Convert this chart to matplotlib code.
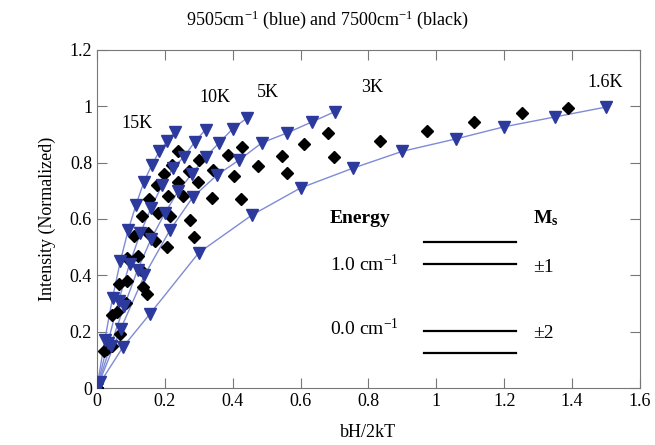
import matplotlib.pyplot as plt
import numpy as np
from matplotlib.ticker import FormatStrFormatter

plt.rcParams['font.family'] = ['Liberation Serif', 'DejaVu Serif']
plt.rcParams['mathtext.fontset'] = 'custom'
plt.rcParams['mathtext.rm'] = 'Liberation Serif'
plt.rcParams['mathtext.bf'] = 'Liberation Serif:bold'
plt.rcParams['mathtext.default'] = 'regular'

# blue series (9505 cm-1), triangles with line
b16_x = [0, 0.01, 0.077, 0.156, 0.30, 0.457, 0.60, 0.754, 0.90, 1.058, 1.20, 1.35, 1.50]
b16_y = [0, 0.02, 0.146, 0.263, 0.48, 0.614, 0.71, 0.78, 0.84, 0.884, 0.927, 0.962, 0.997]
b3_x = [0, 0.07, 0.14, 0.215, 0.283, 0.354, 0.42, 0.486, 0.56, 0.633, 0.70]
b3_y = [0, 0.21, 0.40, 0.56, 0.678, 0.756, 0.81, 0.87, 0.905, 0.944, 0.98]
b5_x = [0, 0.04, 0.08, 0.12, 0.16, 0.20, 0.24, 0.28, 0.32, 0.36, 0.40, 0.442]
b5_y = [0, 0.15, 0.29, 0.42, 0.53, 0.62, 0.70, 0.76, 0.82, 0.87, 0.92, 0.958]
b10_x = [0, 0.032, 0.064, 0.096, 0.128, 0.160, 0.192, 0.224, 0.256, 0.288, 0.32]
b10_y = [0, 0.16, 0.31, 0.44, 0.55, 0.64, 0.72, 0.78, 0.82, 0.873, 0.917]
b15_x = [0, 0.023, 0.046, 0.069, 0.092, 0.115, 0.138, 0.161, 0.184, 0.207, 0.23]
b15_y = [0, 0.17, 0.32, 0.45, 0.56, 0.65, 0.73, 0.79, 0.84, 0.875, 0.91]

# black series (7500 cm-1), diamonds only
k16_x = [0, 0.147, 0.286, 0.424, 0.56, 0.698, 0.834, 0.972, 1.111, 1.252, 1.388]
k16_y = [0, 0.334, 0.536, 0.67, 0.763, 0.82, 0.877, 0.912, 0.944, 0.976, 0.994]
k3_x = [0, 0.068, 0.136, 0.205, 0.274, 0.339, 0.404, 0.474, 0.545, 0.61, 0.68]
k3_y = [0, 0.19, 0.36, 0.50, 0.596, 0.674, 0.753, 0.788, 0.823, 0.866, 0.905]
k5_x = [0, 0.043, 0.086, 0.129, 0.172, 0.215, 0.253, 0.298, 0.342, 0.386, 0.427]
k5_y = [0, 0.15, 0.30, 0.42, 0.52, 0.61, 0.68, 0.731, 0.774, 0.827, 0.855]
k10_x = [0, 0.03, 0.06, 0.09, 0.12, 0.15, 0.18, 0.21, 0.24, 0.27, 0.30]
k10_y = [0, 0.14, 0.27, 0.38, 0.47, 0.55, 0.62, 0.68, 0.73, 0.77, 0.81]
k15_x = [0, 0.022, 0.044, 0.066, 0.088, 0.11, 0.132, 0.154, 0.176, 0.198, 0.22, 0.24]
k15_y = [0, 0.13, 0.26, 0.37, 0.46, 0.54, 0.61, 0.67, 0.72, 0.76, 0.79, 0.84]

temps = ['15K', '10K', '5K', '3K', '1.6K']
temp_x = [0.118, 0.348, 0.504, 0.81, 1.497]
temp_y = [0.94, 1.03, 1.047, 1.065, 1.083]

fig = plt.figure(figsize=(6.55, 4.45), dpi=100)
ax = fig.add_axes([0.148, 0.128, 0.829, 0.760])

mk = '#2b3a9c'
ln = '#7f8bd6'
blue = [(b16_x, b16_y), (b3_x, b3_y), (b5_x, b5_y), (b10_x, b10_y), (b15_x, b15_y)]
black = [(k16_x, k16_y), (k3_x, k3_y), (k5_x, k5_y), (k10_x, k10_y), (k15_x, k15_y)]
for xs, ys in blue:
    ax.plot(xs, ys, '-', color=ln, lw=1.0, zorder=2)
for xs, ys in black:
    ax.plot(xs, ys, 'D', color='black', ms=6, mec='black', zorder=3)
for xs, ys in blue:
    ax.plot(xs, ys, 'v', color=mk, ms=8.5, mec=mk, ls='none', zorder=4)

for t, x, y in zip(temps, temp_x, temp_y):
    ax.text(x, y, t, fontsize=13, ha='center', va='center')

# energy level inset
ax.text(0.687, 0.603, 'Energy', fontsize=14, fontweight='bold', va='center')
ax.text(1.285, 0.603, r'$\mathbf{M}_{\mathbf{s}}$', fontsize=14, va='center')
ax.text(0.687, 0.437, r'1.0 cm$^{-1}$', fontsize=14, va='center')
ax.text(0.687, 0.213, r'0.0 cm$^{-1}$', fontsize=14, va='center')
ax.text(1.285, 0.426, '±1', fontsize=14, va='center')
ax.text(1.285, 0.195, '±2', fontsize=14, va='center')
for ly in [0.518, 0.44, 0.202, 0.124]:
    ax.plot([0.963, 1.235], [ly, ly], color='black', lw=1.6)

ax.set_xlim(0, 1.6)
ax.set_ylim(0, 1.2)
ax.set_xticks(np.arange(0, 1.61, 0.2))
ax.set_yticks(np.arange(0, 1.21, 0.2))
ax.xaxis.set_major_formatter(FormatStrFormatter('%g'))
ax.yaxis.set_major_formatter(FormatStrFormatter('%g'))
ax.tick_params(direction='in', top=True, right=True, length=7, color='#777777', labelsize=13)
for s in ax.spines.values():
    s.set_color('#777777')

ax.set_xlabel('bH/2kT', fontsize=13, labelpad=10)
ax.set_ylabel('Intensity (Normalized)', fontsize=13, labelpad=10)
fig.text(0.5, 0.955, r'9505cm$^{-1}$ (blue) and 7500cm$^{-1}$ (black)', fontsize=13, ha='center', va='center')

fig.savefig('out.png', dpi=100)
